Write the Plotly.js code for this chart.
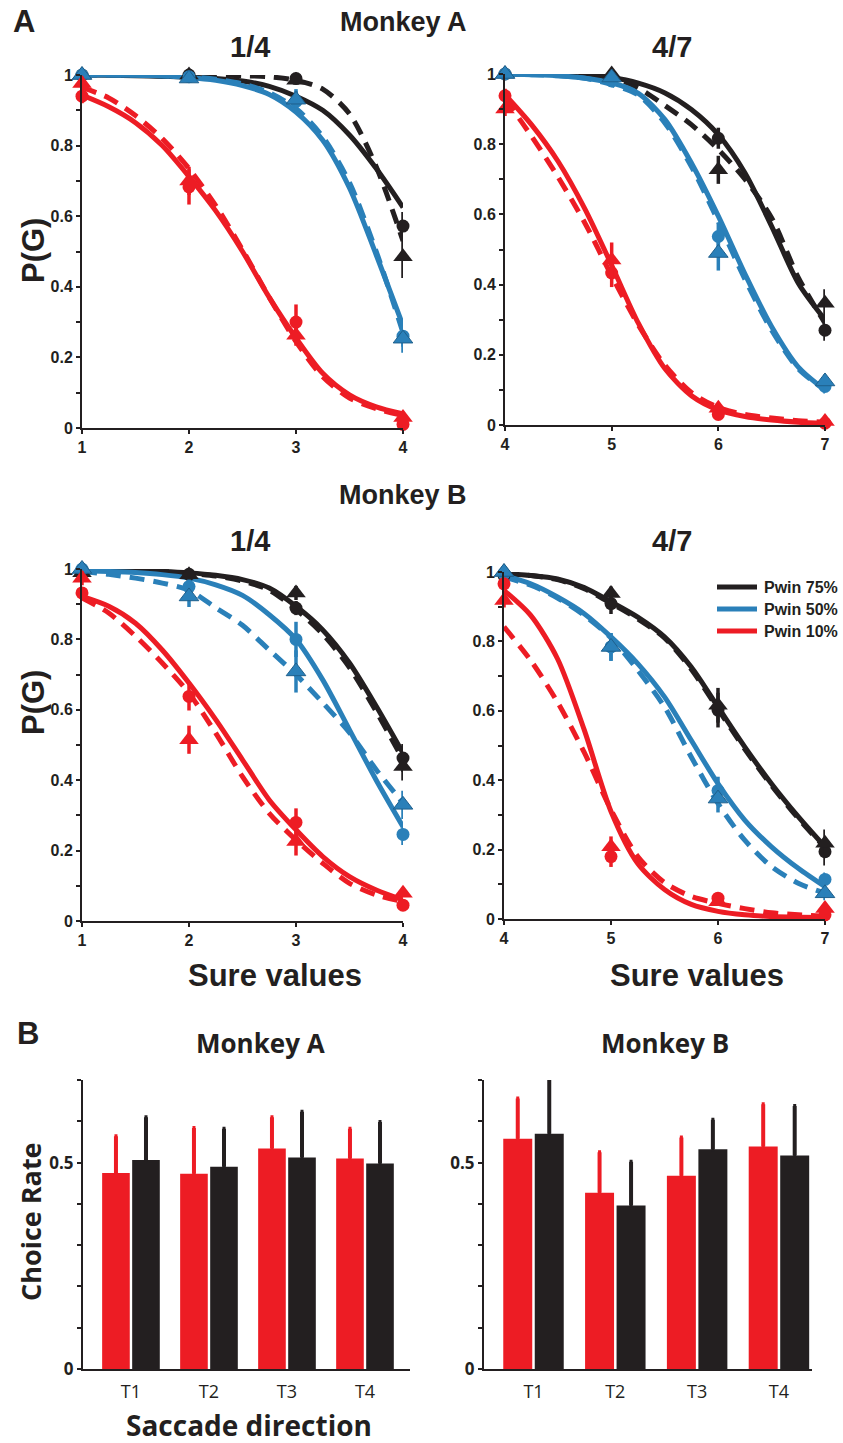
<!DOCTYPE html>
<html>
<head>
<meta charset="utf-8">
<script src="https://cdn.plot.ly/plotly-3.0.1.min.js"></script>
<style>html,body{margin:0;padding:0;background:#fff;}#chart{width:843px;height:1443px;}</style>
</head>
<body>
<div id="chart"></div>
<script>
// ---------------- DATA ----------------
const seriesNames = ['Pwin 75%', 'Pwin 50%', 'Pwin 10%'];

const sure14 = [1, 2, 3, 4];
const sure47 = [4, 5, 6, 7];
const fitX14 = [1, 1.25, 1.5, 1.75, 2, 2.25, 2.5, 2.75, 3, 3.25, 3.5, 3.75, 4];
const fitX47 = [4, 4.25, 4.5, 4.75, 5, 5.25, 5.5, 5.75, 6, 6.25, 6.5, 6.75, 7];
const yTickVals = [0, 0.1, 0.2, 0.3, 0.4, 0.5, 0.6, 0.7, 0.8, 0.9, 1];
const yTickText = ['0', '', '0.2', '', '0.4', '', '0.6', '', '0.8', '', '1'];

// Monkey A, 1/4
const A14_solid75 = [1.0, 0.999, 0.998, 0.996, 0.994, 0.99, 0.983, 0.968, 0.94, 0.90, 0.83, 0.735, 0.625];
const A14_solid50 = [1.0, 1.0, 0.999, 0.997, 0.993, 0.985, 0.97, 0.945, 0.895, 0.815, 0.68, 0.49, 0.29];
const A14_solid10 = [0.943, 0.91, 0.865, 0.8, 0.712, 0.615, 0.5, 0.37, 0.255, 0.155, 0.094, 0.06, 0.04];
const A14_dash75 = [1.0, 1.0, 1.0, 1.0, 1.0, 1.0, 0.998, 0.995, 0.985, 0.96, 0.89, 0.74, 0.53];
const A14_dash50 = [1.0, 1.0, 1.0, 0.998, 0.995, 0.988, 0.975, 0.95, 0.905, 0.825, 0.695, 0.5, 0.27];
const A14_dash10 = [0.965, 0.935, 0.885, 0.82, 0.735, 0.63, 0.505, 0.37, 0.245, 0.145, 0.085, 0.055, 0.035];
const A14_circ75 = [1.0, 1.0, 0.99, 0.572];   const A14_circErr75 = [0.005, 0.005, 0.01, 0.04];
const A14_circ50 = [1.0, 0.995, 0.925, 0.26]; const A14_circErr50 = [0.005, 0.005, 0.03, 0.03];
const A14_circ10 = [0.94, 0.683, 0.30, 0.01]; const A14_circErr10 = [0.02, 0.05, 0.05, 0.01];
const A14_tri75 = [1.0, 1.0, 0.985, 0.485];   const A14_triErr75 = [0.005, 0.01, 0.01, 0.06];
const A14_tri50 = [1.0, 0.99, 0.93, 0.253];   const A14_triErr50 = [0.005, 0.01, 0.03, 0.04];
const A14_tri10 = [0.976, 0.70, 0.263, 0.03]; const A14_triErr10 = [0.02, 0.04, 0.03, 0.01];

// Monkey A, 4/7
const A47_solid75 = [1.0, 1.0, 0.999, 0.997, 0.99, 0.974, 0.946, 0.898, 0.827, 0.718, 0.566, 0.404, 0.30];
const A47_solid50 = [1.0, 0.998, 0.995, 0.988, 0.975, 0.945, 0.87, 0.745, 0.595, 0.43, 0.28, 0.165, 0.1];
const A47_solid10 = [0.941, 0.855, 0.75, 0.615, 0.455, 0.29, 0.16, 0.083, 0.043, 0.024, 0.014, 0.008, 0.005];
const A47_dash75 = [1.0, 1.0, 0.999, 0.996, 0.99, 0.96, 0.91, 0.855, 0.785, 0.70, 0.59, 0.42, 0.29];
const A47_dash50 = [1.0, 0.998, 0.995, 0.988, 0.97, 0.94, 0.86, 0.735, 0.58, 0.415, 0.27, 0.16, 0.1];
const A47_dash10 = [0.93, 0.822, 0.705, 0.575, 0.425, 0.285, 0.17, 0.092, 0.05, 0.03, 0.02, 0.012, 0.008];
const A47_circ75 = [1.0, 0.99, 0.817, 0.27];  const A47_circErr75 = [0.005, 0.01, 0.03, 0.03];
const A47_circ50 = [1.0, 0.98, 0.537, 0.11];  const A47_circErr50 = [0.005, 0.01, 0.04, 0.02];
const A47_circ10 = [0.938, 0.433, 0.03, 0.005]; const A47_circErr10 = [0.02, 0.04, 0.01, 0.005];
const A47_tri75 = [1.0, 1.0, 0.727, 0.347];   const A47_triErr75 = [0.005, 0.01, 0.04, 0.04];
const A47_tri50 = [1.0, 0.99, 0.49, 0.124];   const A47_triErr50 = [0.005, 0.01, 0.05, 0.02];
const A47_tri10 = [0.90, 0.47, 0.048, 0.01];  const A47_triErr10 = [0.02, 0.05, 0.01, 0.005];

// Monkey B, 1/4
const B14_solid75 = [0.997, 0.996, 0.995, 0.993, 0.989, 0.982, 0.97, 0.946, 0.894, 0.827, 0.733, 0.61, 0.477];
const B14_solid50 = [0.995, 0.993, 0.99, 0.984, 0.974, 0.955, 0.925, 0.87, 0.80, 0.685, 0.543, 0.40, 0.268];
const B14_solid10 = [0.922, 0.894, 0.846, 0.77, 0.676, 0.572, 0.458, 0.344, 0.259, 0.183, 0.126, 0.088, 0.06];
const B14_dash75 = [0.997, 0.996, 0.995, 0.993, 0.988, 0.98, 0.966, 0.94, 0.885, 0.815, 0.72, 0.595, 0.458];
const B14_dash50 = [0.993, 0.985, 0.974, 0.96, 0.94, 0.89, 0.84, 0.77, 0.70, 0.62, 0.535, 0.43, 0.335];
const B14_dash10 = [0.918, 0.875, 0.809, 0.733, 0.647, 0.534, 0.41, 0.306, 0.23, 0.164, 0.107, 0.074, 0.055];
const B14_circ75 = [0.997, 0.985, 0.889, 0.463]; const B14_circErr75 = [0.005, 0.01, 0.02, 0.04];
const B14_circ50 = [1.0, 0.95, 0.80, 0.246];    const B14_circErr50 = [0.005, 0.02, 0.05, 0.03];
const B14_circ10 = [0.932, 0.638, 0.28, 0.045];  const B14_circErr10 = [0.01, 0.04, 0.04, 0.01];
const B14_tri75 = [0.989, 0.984, 0.932, 0.439];  const B14_triErr75 = [0.005, 0.01, 0.02, 0.04];
const B14_tri50 = [1.0, 0.922, 0.709, 0.33];     const B14_triErr50 = [0.005, 0.03, 0.06, 0.04];
const B14_tri10 = [0.974, 0.515, 0.226, 0.079];  const B14_triErr10 = [0.02, 0.04, 0.04, 0.01];

// Monkey B, 4/7
const B47_solid75 = [0.995, 0.99, 0.98, 0.955, 0.914, 0.87, 0.813, 0.726, 0.611, 0.496, 0.39, 0.295, 0.208];
const B47_solid50 = [0.99, 0.966, 0.928, 0.88, 0.813, 0.736, 0.64, 0.515, 0.39, 0.285, 0.208, 0.146, 0.093];
const B47_solid10 = [0.947, 0.875, 0.75, 0.545, 0.31, 0.16, 0.085, 0.042, 0.022, 0.012, 0.007, 0.005, 0.004];
const B47_dash75 = [0.995, 0.99, 0.978, 0.952, 0.91, 0.865, 0.81, 0.72, 0.605, 0.49, 0.385, 0.29, 0.205];
const B47_dash50 = [0.985, 0.962, 0.925, 0.875, 0.81, 0.717, 0.611, 0.467, 0.333, 0.227, 0.151, 0.103, 0.074];
const B47_dash10 = [0.842, 0.745, 0.625, 0.48, 0.315, 0.18, 0.105, 0.065, 0.045, 0.03, 0.018, 0.012, 0.008];
const B47_circ75 = [0.99, 0.909, 0.602, 0.194];  const B47_circErr75 = [0.005, 0.03, 0.05, 0.04];
const B47_circ50 = [0.995, 0.784, 0.37, 0.114];  const B47_circErr50 = [0.005, 0.04, 0.04, 0.02];
const B47_circ10 = [0.966, 0.18, 0.06, 0.012];   const B47_circErr10 = [0.01, 0.03, 0.01, 0.01];
const B47_tri75 = [1.0, 0.938, 0.616, 0.218];    const B47_triErr75 = [0.005, 0.02, 0.05, 0.04];
const B47_tri50 = [1.0, 0.784, 0.347, 0.074];    const B47_triErr50 = [0.005, 0.04, 0.04, 0.02];
const B47_tri10 = [0.918, 0.208, 0.05, 0.03];    const B47_triErr10 = [0.02, 0.03, 0.01, 0.01];

// Panel B: choice rates by saccade direction
const directions = ['T1', 'T2', 'T3', 'T4'];
const barYTickVals = [0, 0.1, 0.2, 0.3, 0.4, 0.5, 0.6, 0.7];
const barYTickText = ['0', '', '', '', '', '0.5', '', ''];
const monkeyA_red = [0.475, 0.473, 0.534, 0.51];   const monkeyA_redErr = [0.089, 0.111, 0.076, 0.072];
const monkeyA_black = [0.506, 0.49, 0.512, 0.498]; const monkeyA_blackErr = [0.104, 0.092, 0.111, 0.10];
const monkeyB_red = [0.558, 0.427, 0.468, 0.539];  const monkeyB_redErr = [0.097, 0.098, 0.093, 0.102];
const monkeyB_black = [0.570, 0.396, 0.532, 0.517]; const monkeyB_blackErr = [0.13, 0.106, 0.072, 0.12];

// ---------------- STYLE / LAYOUT ----------------
const W = 843, H = 1443;
const fx = p => p / W;
const fy = p => 1 - p / H;
const INK = '#231f20';
const COLORS = ['#231f20', '#2a80b9', '#ed1c24'];
const HELV = 'Liberation Sans, Arial, sans-serif';
const MYR = 'Open Sans, Lato, sans-serif';

const traces = [];

function addPanel(n, sure, fitX, solids, dashes, circs, circErrs, tris, triErrs) {
  const xa = 'x' + n, ya = 'y' + n;
  for (let i = 0; i < 3; i++) {
    traces.push({x: fitX, y: dashes[i], xaxis: xa, yaxis: ya, mode: 'lines', type: 'scatter',
      name: seriesNames[i] + ' (dashed fit)', showlegend: false, hoverinfo: 'skip',
      line: {color: COLORS[i], width: 5, dash: '15px,9px', shape: 'spline', smoothing: 0.8}});
    traces.push({x: fitX, y: solids[i], xaxis: xa, yaxis: ya, mode: 'lines', type: 'scatter',
      name: seriesNames[i], showlegend: false, hoverinfo: 'skip',
      line: {color: COLORS[i], width: 5, shape: 'spline', smoothing: 0.8}});
  }
  for (let i = 0; i < 3; i++) {
    traces.push({x: sure, y: circs[i], xaxis: xa, yaxis: ya, mode: 'markers', type: 'scatter',
      name: seriesNames[i] + ' circles', showlegend: false, cliponaxis: false,
      marker: {symbol: 'circle', size: 13, color: COLORS[i]},
      error_y: {type: 'data', array: circErrs[i], color: COLORS[i], thickness: 3.5, width: 0}});
    traces.push({x: sure, y: tris[i], xaxis: xa, yaxis: ya, mode: 'markers', type: 'scatter',
      name: seriesNames[i] + ' triangles', showlegend: false, cliponaxis: false,
      marker: {symbol: 'triangle-up', size: 17, color: COLORS[i], line: {color: i === 1 ? '#1e5f8c' : COLORS[i], width: i === 1 ? 1 : 0}},
      error_y: {type: 'data', array: triErrs[i], color: COLORS[i], thickness: 3.5, width: 0}});
  }
}

addPanel(1, sure14, fitX14, [A14_solid75, A14_solid50, A14_solid10], [A14_dash75, A14_dash50, A14_dash10],
  [A14_circ75, A14_circ50, A14_circ10], [A14_circErr75, A14_circErr50, A14_circErr10],
  [A14_tri75, A14_tri50, A14_tri10], [A14_triErr75, A14_triErr50, A14_triErr10]);
addPanel(2, sure47, fitX47, [A47_solid75, A47_solid50, A47_solid10], [A47_dash75, A47_dash50, A47_dash10],
  [A47_circ75, A47_circ50, A47_circ10], [A47_circErr75, A47_circErr50, A47_circErr10],
  [A47_tri75, A47_tri50, A47_tri10], [A47_triErr75, A47_triErr50, A47_triErr10]);
addPanel(3, sure14, fitX14, [B14_solid75, B14_solid50, B14_solid10], [B14_dash75, B14_dash50, B14_dash10],
  [B14_circ75, B14_circ50, B14_circ10], [B14_circErr75, B14_circErr50, B14_circErr10],
  [B14_tri75, B14_tri50, B14_tri10], [B14_triErr75, B14_triErr50, B14_triErr10]);
addPanel(4, sure47, fitX47, [B47_solid75, B47_solid50, B47_solid10], [B47_dash75, B47_dash50, B47_dash10],
  [B47_circ75, B47_circ50, B47_circ10], [B47_circErr75, B47_circErr50, B47_circErr10],
  [B47_tri75, B47_tri50, B47_tri10], [B47_triErr75, B47_triErr50, B47_triErr10]);

function addBars(n, red, redErr, black, blackErr) {
  const zeros = red.map(() => 0);
  traces.push({type: 'bar', x: directions, y: red, xaxis: 'x' + n, yaxis: 'y' + n, name: 'red', showlegend: false,
    marker: {color: '#ed1c24'},
    error_y: {type: 'data', symmetric: false, array: redErr, arrayminus: zeros, color: '#ed1c24', thickness: 4, width: 1.5}});
  traces.push({type: 'bar', x: directions, y: black, xaxis: 'x' + n, yaxis: 'y' + n, name: 'black', showlegend: false,
    marker: {color: INK},
    error_y: {type: 'data', symmetric: false, array: blackErr, arrayminus: zeros, color: INK, thickness: 4, width: 1.5}});
}
addBars(5, monkeyA_red, monkeyA_redErr, monkeyA_black, monkeyA_blackErr);
addBars(6, monkeyB_red, monkeyB_redErr, monkeyB_black, monkeyB_blackErr);

const tickFont = {family: HELV, size: 16, color: INK, weight: 'bold'};
function lineX(n, range, l, r) {
  return {domain: [fx(l), fx(r)], anchor: 'y' + n, range: range, showline: true, linecolor: INK, linewidth: 2,
    ticks: 'outside', ticklen: 4, tickwidth: 2, tickcolor: INK, tickvals: n % 2 ? sure14 : sure47,
    tickfont: tickFont, showgrid: false, zeroline: false, fixedrange: true};
}
function lineY(n, t, b) {
  return {domain: [fy(b), fy(t)], anchor: 'x' + n, range: [0, 1], showline: true, linecolor: INK, linewidth: 2,
    ticks: 'outside', ticklen: 4, tickwidth: 2, tickcolor: INK, tickvals: yTickVals, ticktext: yTickText,
    tickfont: tickFont, showgrid: false, zeroline: false, fixedrange: true};
}
function barX(n, range, l, r) {
  return {domain: [fx(l), fx(r)], anchor: 'y' + n, range: range, type: 'category', showline: true, linecolor: INK,
    linewidth: 2, ticks: 'outside', ticklen: 5, tickcolor: 'rgba(0,0,0,0)',
    tickfont: {family: MYR, size: 18, color: INK}, showgrid: false, zeroline: false, fixedrange: true};
}
function barY(n) {
  return {domain: [fy(1369), fy(1080)], anchor: 'x' + n, range: [0, 0.7], showline: true, linecolor: INK, linewidth: 2,
    ticks: 'outside', ticklen: 4, tickwidth: 2, tickcolor: INK, tickvals: barYTickVals, ticktext: barYTickText,
    tickfont: {family: MYR, size: 17, color: INK, weight: 'bold'}, showgrid: false, zeroline: false, fixedrange: true};
}

function ann(text, x, y, size, family, extra) {
  return Object.assign({text: text, x: fx(x), y: fy(y), xref: 'paper', yref: 'paper', showarrow: false,
    xanchor: 'center', yanchor: 'middle', font: {family: family, size: size, color: INK, weight: 'bold'}}, extra || {});
}

const annotations = [
  ann('A', 24, 21, 31, HELV),
  ann('Monkey A', 403, 22, 27, HELV),
  ann('1/4', 250, 47, 29, HELV),
  ann('4/7', 672, 47, 29, HELV),
  ann('Monkey B', 403, 495, 27, HELV),
  ann('1/4', 250, 541, 29, HELV),
  ann('4/7', 672, 541, 29, HELV),
  ann('P(G)', 33, 251, 31, HELV, {textangle: -90}),
  ann('P(G)', 33, 703, 31, HELV, {textangle: -90}),
  ann('Sure values', 275, 975, 31, HELV),
  ann('Sure values', 697, 975, 31, HELV),
  ann('B', 28, 1033, 31, HELV),
  ann('Monkey A', 260, 1043, 26, MYR),
  ann('Monkey B', 665, 1043, 26, MYR),
  ann('Choice Rate', 30, 1222, 27, MYR, {textangle: -90}),
  ann('Saccade direction', 249, 1425, 28, MYR)
];
const legendRows = [587, 609, 631];
const shapes = [];
for (let i = 0; i < 3; i++) {
  shapes.push({type: 'line', xref: 'paper', yref: 'paper', x0: fx(717), x1: fx(757), y0: fy(legendRows[i]), y1: fy(legendRows[i]),
    line: {color: COLORS[i], width: 5}});
  annotations.push(ann(seriesNames[i], 762, legendRows[i], 16, HELV, {xanchor: 'left'}));
}

const layout = {
  width: W, height: H, margin: {l: 0, r: 0, t: 0, b: 0}, paper_bgcolor: '#fff', plot_bgcolor: 'rgba(0,0,0,0)',
  showlegend: false, barmode: 'group', bargap: 0.23, bargroupgap: 0.08,
  xaxis: lineX(1, [1, 4], 82, 403), yaxis: lineY(1, 75, 428),
  xaxis2: lineX(2, [4, 7], 505, 825), yaxis2: lineY(2, 74, 425),
  xaxis3: lineX(3, [1, 4], 82, 403), yaxis3: lineY(3, 569, 921),
  xaxis4: lineX(4, [4, 7], 504, 825), yaxis4: lineY(4, 572, 919),
  xaxis5: barX(5, [-0.615, 3.577], 83, 410), yaxis5: barY(5),
  xaxis6: barX(6, [-0.605, 3.404], 484, 812), yaxis6: barY(6),
  annotations: annotations, shapes: shapes
};

Plotly.newPlot('chart', traces, layout, {staticPlot: true, displayModeBar: false});
</script>
</body>
</html>
